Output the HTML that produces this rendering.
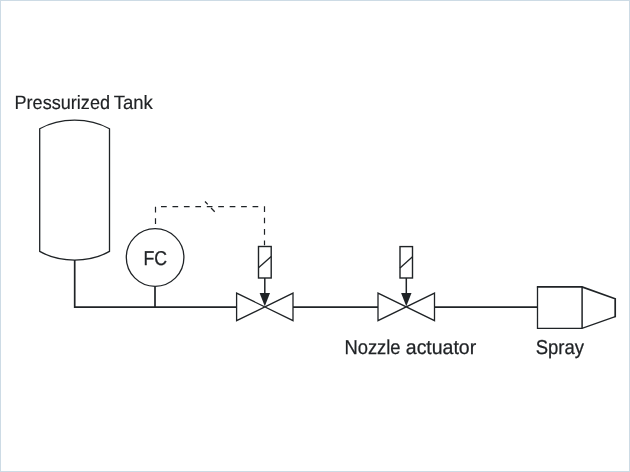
<!DOCTYPE html>
<html lang="en">
<head>
<meta charset="utf-8">
<title>Pressurized Tank Spray Diagram</title>
<style>
html,body{margin:0;padding:0;background:#fff;overflow:hidden;}
body{width:630px;height:472px;}
svg{display:block;position:absolute;left:0;top:0;will-change:transform;transform:translateZ(0);}
text{font-family:"Liberation Sans",sans-serif;fill:#202326;text-rendering:geometricPrecision;}
.thin{fill:none;stroke:#1f2326;stroke-width:1.3;}
.stem{fill:none;stroke:#1f2326;stroke-width:1.5;}
.thick{fill:none;stroke:#1f2326;stroke-width:1.7;}
.dash{fill:none;stroke:#1f2326;stroke-width:1.2;stroke-dasharray:5.7 5.74;}
</style>
</head>
<body>
<svg width="630" height="472" viewBox="0 0 630 472">
  <rect x="0.5" y="0.5" width="629" height="471" fill="#ffffff" stroke="#cddbe5" stroke-width="1"/>

  <!-- Tank -->
  <path class="thin" d="M39.7 128.8 A55 38.3 0 0 1 109.5 128.8 V251.4 A55 38.3 0 0 1 39.7 251.4 Z"/>
  <!-- pipe from tank -->
  <path class="thick" d="M74.7 260 V307.1 H236.6"/>
  <path class="thick" d="M155 286.5 V307.1"/>
  <!-- FC circle -->
  <circle class="thin" cx="155.1" cy="257.5" r="28.8"/>
  <text x="143.4" y="265" font-size="20" textLength="23.6" lengthAdjust="spacingAndGlyphs" stroke="#202326" stroke-width="0.3">FC</text>

  <!-- dashed control line -->
  <path class="dash" stroke-dashoffset="1.05" d="M264.5 245.2 V206"/>
  <path class="dash" stroke-dashoffset="-0.25" d="M258.5 206.6 H155.5 V228.5"/>
  <path class="thin" d="M205 201.5 L207.75 204.4 M211.1 208 L214.7 211.7"/>

  <!-- valve 1 -->
  <rect class="thin" style="stroke-width:1.4" x="258.5" y="246.5" width="12.7" height="31.5"/>
  <path class="thin" d="M258.5 267.8 L271.2 256.5"/>
  <path class="stem" d="M264.8 278 V296"/>
  <path d="M259.6 292.9 H270 L264.8 306.3 Z" fill="#1f2326"/>
  <path class="thin" d="M236.6 293.1 V320.7 L293 293.1 V320.7 Z"/>
  <path class="thick" d="M293 307.1 H378"/>

  <!-- valve 2 -->
  <rect class="thin" style="stroke-width:1.4" x="400" y="246.6" width="12.5" height="31.4"/>
  <path class="thin" d="M400 268 L412.5 256.8"/>
  <path class="stem" d="M406.3 278 V296"/>
  <path d="M401.1 292.9 H411.5 L406.3 306.3 Z" fill="#1f2326"/>
  <path class="thin" d="M378 293.1 V320.7 L434.5 293.1 V320.7 Z"/>
  <path class="thick" d="M434.5 307.1 H537.5"/>

  <!-- spray nozzle -->
  <path class="thin" d="M537.5 286.5 V328.3 H582 L615.2 316.7"/>
  <path class="thick" stroke-linejoin="miter" d="M536.9 286.9 H582 L615.2 298.8 V317.2"/>
  <path class="thin" style="stroke-width:1.5" d="M582.1 286.7 V328.3"/>

  <!-- labels -->
  <text y="108.7" font-size="19.2" fill="#1a1a1a" stroke="#1a1a1a" stroke-width="0.15"><tspan x="14.5" textLength="95.5" lengthAdjust="spacingAndGlyphs">Pressurized</tspan> <tspan x="113.7" textLength="39.1" lengthAdjust="spacingAndGlyphs">Tank</tspan></text>
  <text y="354" font-size="20.1" stroke="#202326" stroke-width="0.25"><tspan x="344.4" textLength="56.2" lengthAdjust="spacingAndGlyphs">Nozzle</tspan> <tspan x="405.8" textLength="70.4" lengthAdjust="spacingAndGlyphs">actuator</tspan></text>
  <text x="535.7" y="354" font-size="20.1" textLength="48.3" stroke="#202326" stroke-width="0.25" lengthAdjust="spacingAndGlyphs">Spray</text>
</svg>
</body>
</html>
